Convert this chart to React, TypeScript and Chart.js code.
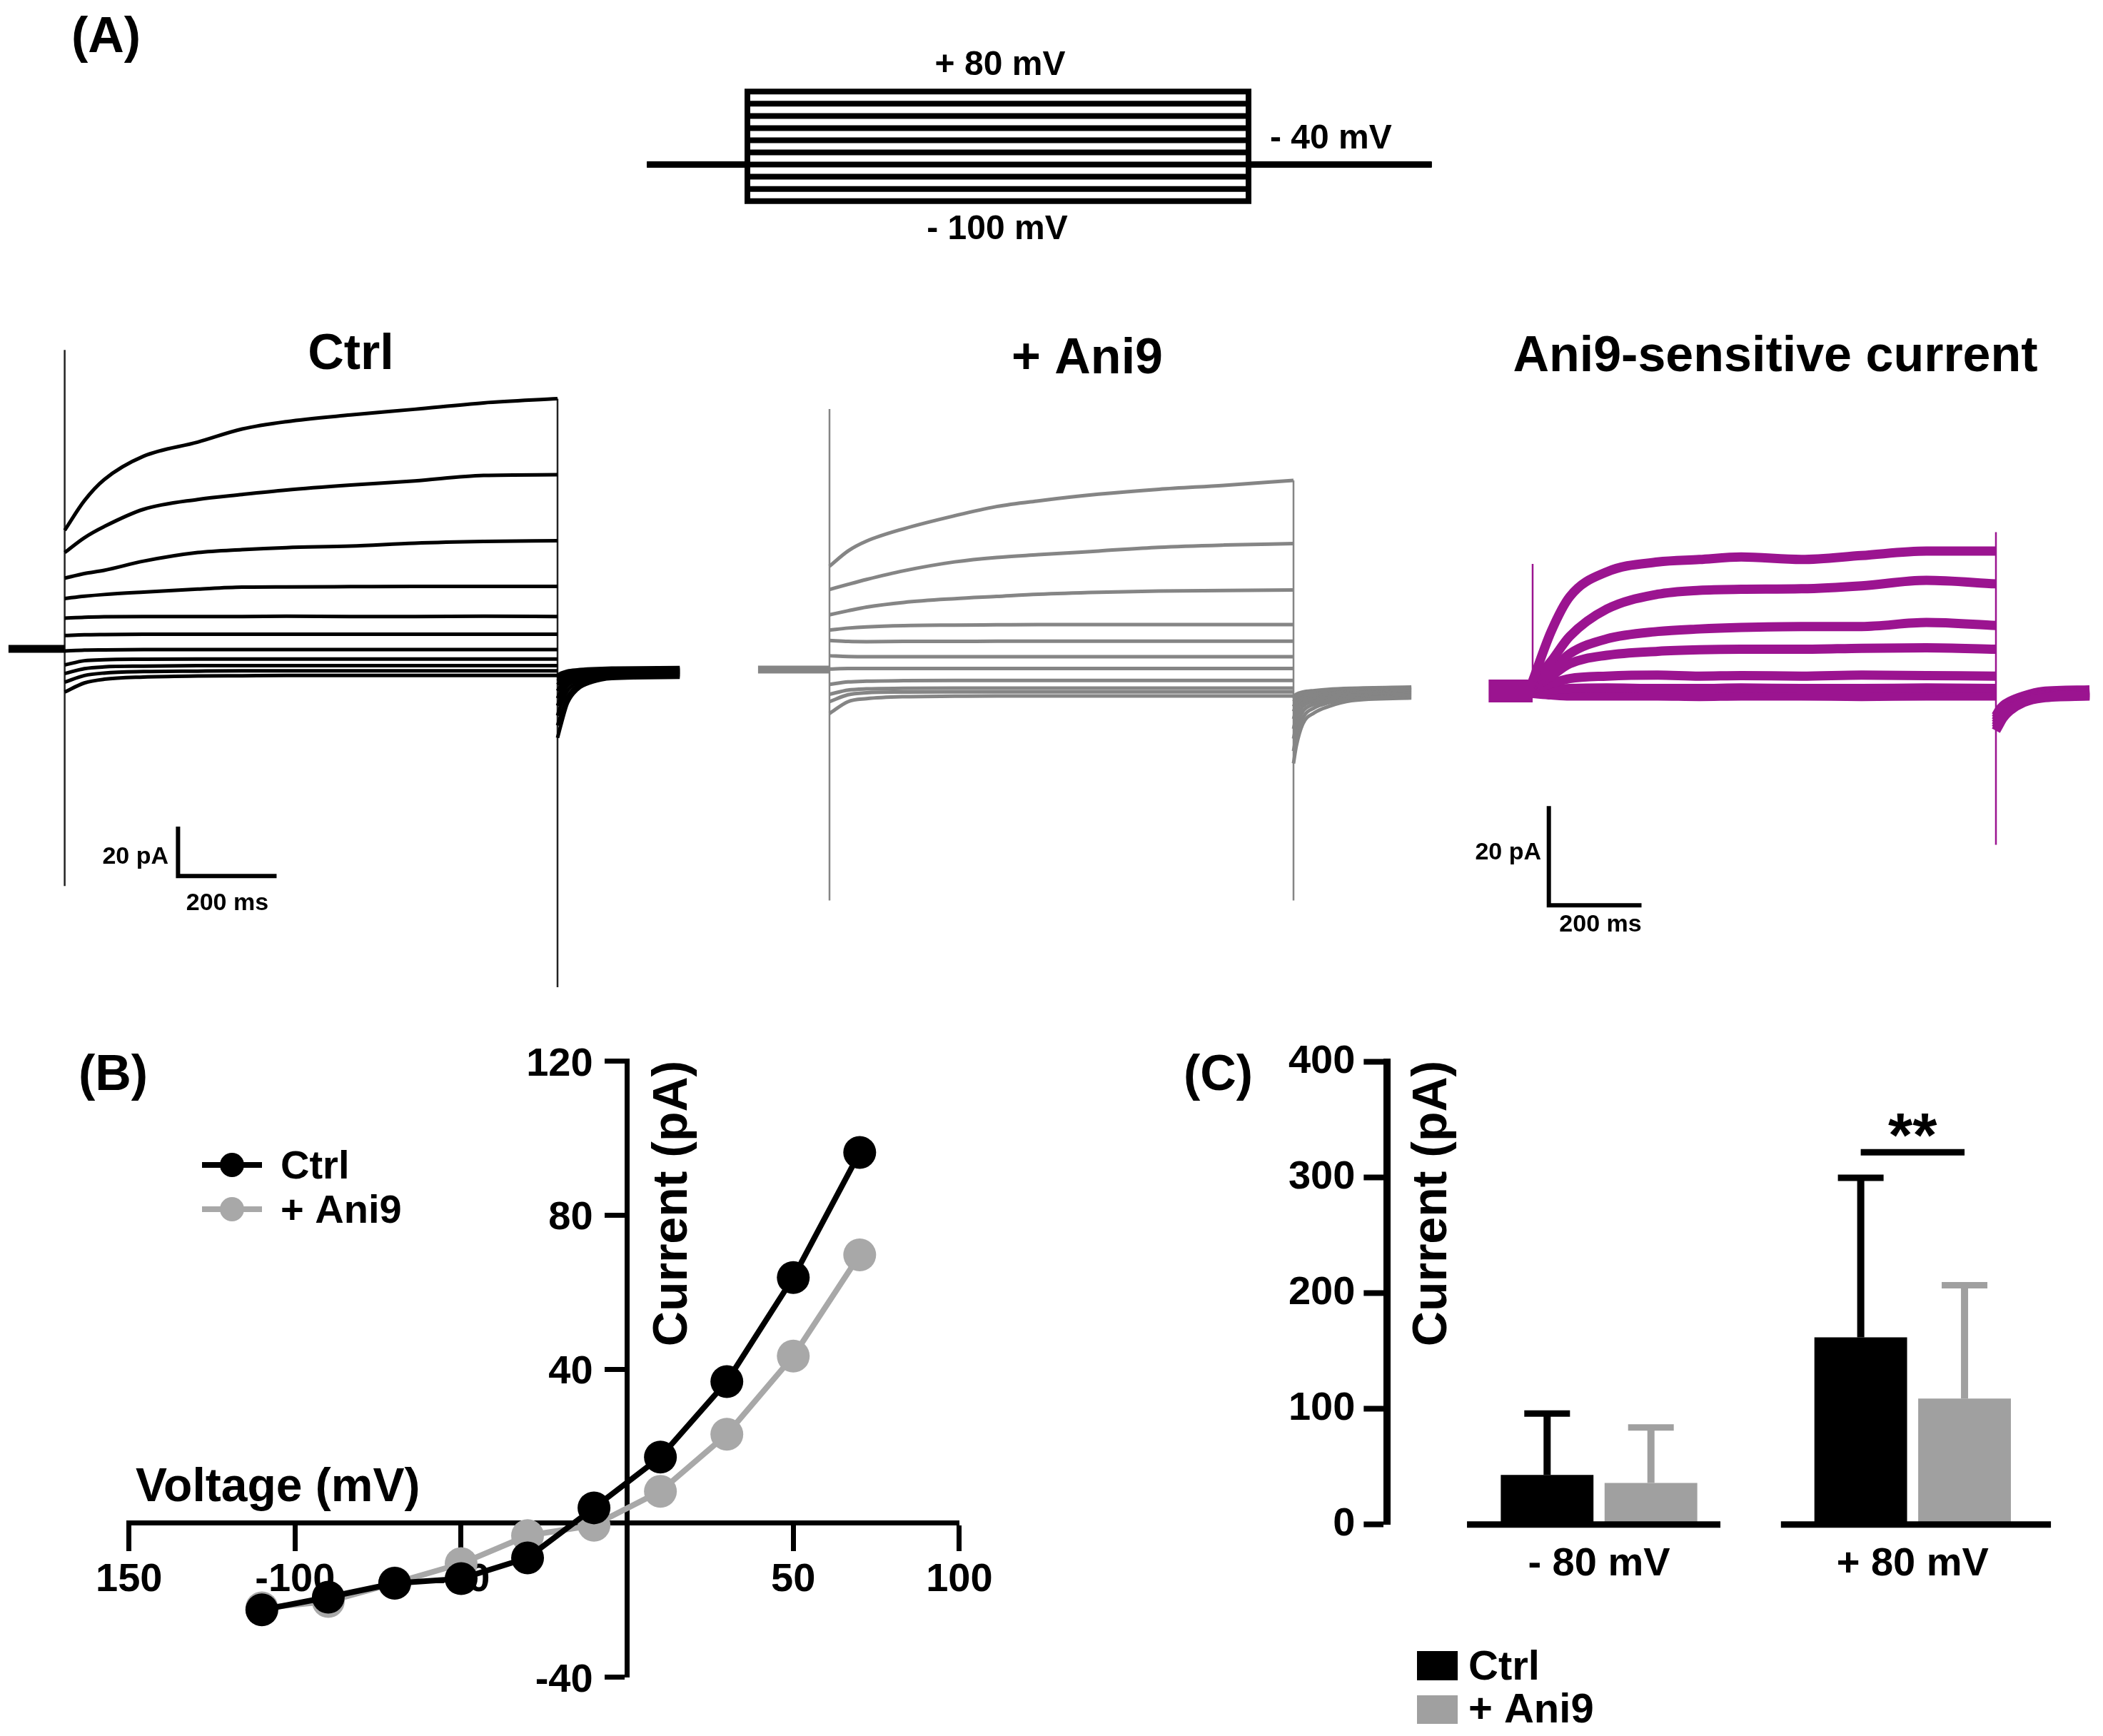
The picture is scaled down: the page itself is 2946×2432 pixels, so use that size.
import React, { useEffect, useRef } from "react";
import { Chart, registerables } from "chart.js";

Chart.register(...registerables);

const FONT = '"Liberation Sans", Arial, Helvetica, sans-serif';
Chart.defaults.font.family = FONT;
Chart.defaults.color = "#000";

// ---------------- DATA ----------------
// Voltage protocol (mV, ms)
const PROTOCOL_LEVELS_MV = [80, 60, 40, 20, 0, -20, -40, -60, -80, -100];
const HOLDING_MV = -40;
const PROTOCOL_TIMES_MS = [-200, 0, 1000, 1365];

// Current traces (pA) sampled at these times (ms)
const HOLDING_PA = 0;
const STEP_TIMES_MS = [0, 40, 80, 160, 270, 360, 450, 580, 710, 850, 1000];

const CTRL_PRE_START_MS = -114;
const CTRL_STEP_PA = [
  [48, 60, 68.5, 78, 83.7, 89, 92, 94.7, 97, 99.6, 101.3],
  [39, 45, 49.5, 56.5, 60.5, 62.5, 64.3, 66.3, 68, 70.2, 70.5],
  [28.6, 30.5, 31.8, 35.5, 39, 40.2, 41, 41.6, 42.8, 43.5, 43.8],
  [20.4, 21.3, 22, 23, 24.2, 25, 25.1, 25.2, 25.3, 25.3, 25.3],
  [12.4, 12.8, 13, 13.1, 13.1, 13.1, 13.2, 13.1, 13.1, 13.2, 13.1],
  [5.4, 5.7, 5.8, 5.9, 5.9, 5.9, 5.9, 5.9, 5.9, 5.9, 5.9],
  [-0.9, -0.5, -0.4, -0.3, -0.3, -0.3, -0.3, -0.3, -0.3, -0.3, -0.3],
  [-6.5, -4.8, -4.4, -4.2, -4.1, -4.1, -4.1, -4.1, -4.1, -4.1, -4.1],
  [-10, -8, -7.3, -7, -6.8, -6.8, -6.8, -6.8, -6.8, -6.8, -6.8],
  [-13.5, -10.8, -9.8, -9.2, -9, -8.9, -8.9, -8.9, -8.9, -8.9, -8.9],
  [-17.5, -13.8, -12.3, -11.4, -11, -10.9, -10.8, -10.8, -10.8, -10.8, -10.8],
];
const CTRL_TAIL_TIMES_MS = [1000, 1008, 1020, 1040, 1070, 1110, 1248];
const CTRL_TAIL_PA = [
  [-36, -30, -22, -16.5, -13.5, -12, -11.5],
  [-31, -26, -19.5, -15, -12.8, -11.5, -11],
  [-27, -22, -17, -13.8, -12, -11, -10.5],
  [-23, -19, -15, -12.7, -11.3, -10.6, -10.2],
  [-20, -16.5, -13.5, -11.8, -10.8, -10.2, -9.8],
  [-17, -14.5, -12.3, -11, -10.3, -9.8, -9.5],
  [-14.5, -12.8, -11.3, -10.4, -9.8, -9.4, -9.2],
  [-13, -11.8, -10.6, -9.9, -9.3, -9, -8.8],
  [-12, -11, -10, -9.4, -8.9, -8.6, -8.4],
  [-11.3, -10.4, -9.5, -9, -8.5, -8.2, -8],
  [-10.6, -9.8, -9, -8.5, -8.1, -7.8, -7.6],
];
const CTRL_ON_SPIKE_PA = [121, -96];
const CTRL_OFF_SPIKE_PA = [101.3, -137];

const ANI9_PRE_START_MS = -154;
const ANI9_STEP_PA = [
  [41.8, 48, 52, 57, 62.3, 66, 68.3, 71, 73, 74.6, 76.6],
  [32.4, 34.5, 36.5, 40, 43.6, 45.4, 46.5, 48, 49.5, 50.4, 51],
  [22.2, 23.8, 25.3, 27.2, 28.7, 29.6, 30.5, 31.3, 31.8, 32, 32.2],
  [16, 16.8, 17.3, 17.8, 18, 18.1, 18.2, 18.2, 18.2, 18.2, 18.2],
  [11.8, 11.4, 11.3, 11.4, 11.4, 11.5, 11.5, 11.5, 11.5, 11.5, 11.5],
  [5.6, 5.3, 5.2, 5.2, 5.2, 5.2, 5.2, 5.2, 5.2, 5.2, 5.2],
  [0.2, 0.4, 0.4, 0.4, 0.4, 0.4, 0.4, 0.4, 0.4, 0.4, 0.4],
  [-6, -5, -4.7, -4.5, -4.4, -4.4, -4.4, -4.4, -4.4, -4.4, -4.4],
  [-10, -8.3, -7.8, -7.6, -7.5, -7.5, -7.5, -7.5, -7.5, -7.5, -7.5],
  [-13, -10.2, -9.4, -9.1, -9, -9, -9, -9, -9, -9, -9],
  [-17.8, -13, -11.8, -11, -10.8, -10.7, -10.7, -10.7, -10.7, -10.7, -10.7],
];
const ANI9_TAIL_TIMES_MS = [1000, 1006, 1020, 1045, 1075, 1125, 1254];
const ANI9_TAIL_PA = [
  [-38, -31, -22, -17.5, -15, -12.6, -11.5],
  [-33, -27, -19.5, -15.5, -13.5, -11.8, -11],
  [-28, -23, -17, -14, -12.3, -11, -10.5],
  [-24, -19.5, -15, -12.8, -11.5, -10.5, -10],
  [-20, -16.5, -13.5, -11.8, -10.8, -10, -9.5],
  [-17, -14.5, -12.3, -11, -10.2, -9.5, -9],
  [-15, -13, -11.3, -10.3, -9.6, -9, -8.5],
  [-13, -11.8, -10.5, -9.7, -9.1, -8.6, -8.1],
  [-12, -11, -9.9, -9.2, -8.7, -8.2, -7.7],
  [-11.5, -10.5, -9.5, -8.8, -8.3, -7.9, -7.4],
  [-11, -10, -9.1, -8.5, -8, -7.6, -7.1],
];
const ANI9_ON_SPIKE_PA = [105.5, -93.5];
const ANI9_OFF_SPIKE_PA = [76.6, -93.5];

const SENS_PRE_START_MS = -95;
const SENS_STEP_PA = [
  [2, 12, 19, 24, 26, 26.5, 27, 26.5, 27.3, 28.2, 28.2],
  [1.5, 6, 11, 16.5, 19.5, 20.3, 20.5, 20.6, 21.2, 22.3, 21.6],
  [1, 4, 7.5, 10.5, 12, 12.5, 12.8, 13, 13, 13.8, 13.2],
  [0.5, 3, 5.5, 7.2, 8, 8.3, 8.4, 8.4, 8.6, 8.7, 8.4],
  [0.3, 1.5, 2.5, 3, 3.2, 3, 3.1, 3, 3.2, 3.1, 3],
  [0, 0.3, 0.5, 0.6, 0.5, 0.5, 0.6, 0.5, 0.5, 0.6, 0.5],
  [-0.5, -0.8, -1, -1, -1, -1.1, -1, -1, -1.1, -1, -1],
];
const SENS_TAIL_TIMES_MS = [1000, 1006, 1015, 1030, 1060, 1100, 1202];
const SENS_TAIL_PA = [
  [-8, -7, -5.5, -4, -2.3, -1.4, -1],
  [-7.5, -6.5, -5, -3.6, -2, -1.1, -0.8],
  [-7, -6, -4.6, -3.3, -1.8, -0.9, -0.6],
  [-6.5, -5.5, -4.2, -3, -1.6, -0.7, -0.4],
  [-6, -5, -3.8, -2.7, -1.4, -0.5, -0.2],
  [-5.5, -4.5, -3.4, -2.4, -1.2, -0.3, 0],
  [-5, -4, -3, -2.1, -1, -0.1, 0.2],
];
const SENS_ON_SPIKE_PA = [25.6, 0];
const SENS_OFF_SPIKE_PA = [32, -31];

const SCALE_BAR_PA = 20;
const SCALE_BAR_MS = 200;

// Panel B: I-V relationship
const B_VOLTAGE_MV = [-110, -90, -70, -50, -30, -10, 10, 30, 50, 70];
const B_CTRL_PA = [-22.5, -19.2, -15.6, -14.4, -9, 4, 17.2, 36.8, 63.8, 96.3];
const B_ANI9_PA = [-22, -20.3, -15.5, -10.5, -3.2, -0.5, 8.3, 23.1, 43.4, 69.7];
const B_X_TICKS = [-150, -100, -50, 0, 50, 100];
const B_X_TICK_TEXT = ["150", "-100", "-50", "", "50", "100"];
const B_Y_TICKS = [-40, 0, 40, 80, 120];
const B_Y_TICK_TEXT = ["-40", "", "40", "80", "120"];

// Panel C: bar chart
const C_GROUPS = ["- 80 mV", "+ 80 mV"];
const C_CTRL_MEAN = [43, 162];
const C_CTRL_SD = [53, 138];
const C_ANI9_MEAN = [36, 109];
const C_ANI9_SD = [48, 98];
const C_SIG_GROUP = 1;
const C_SIG_VALUE = 322;
const C_SIG_TEXT = "**";

// ---------------- HELPERS ----------------
type Box = { left: number; top: number; width: number; height: number };
type TextItem = {
  s: string;
  x: number;
  y: number;
  size: number;
  align?: CanvasTextAlign;
  rot?: number;
  color?: string;
  baseline?: CanvasTextBaseline;
};

function drawText(ctx: CanvasRenderingContext2D, t: TextItem, ox: number, oy: number) {
  ctx.save();
  ctx.font = `bold ${t.size}px ${FONT}`;
  ctx.fillStyle = t.color || "#000";
  ctx.textAlign = t.align || "left";
  ctx.textBaseline = t.baseline || "alphabetic";
  ctx.translate(t.x - ox, t.y - oy);
  if (t.rot) ctx.rotate(t.rot);
  ctx.fillText(t.s, 0, 0);
  ctx.restore();
}

function textPlugin(id: string, items: TextItem[], box: Box) {
  return {
    id,
    afterDraw(chart: any) {
      items.forEach((t) => drawText(chart.ctx, t, box.left, box.top));
    },
  };
}

// value at pixel p, given two reference pixel/value pairs
const valAt = (p: number, p0: number, v0: number, p1: number, v1: number) =>
  v0 + ((p - p0) * (v1 - v0)) / (p1 - p0);

const baseOptions = {
  animation: false,
  responsive: false,
  maintainAspectRatio: false,
  devicePixelRatio: 1,
  events: [],
  plugins: { legend: { display: false }, tooltip: { enabled: false } },
};

function fixScale(w?: number, h?: number) {
  return (s: any) => {
    if (w !== undefined) s.width = w;
    if (h !== undefined) s.height = h;
    s.paddingLeft = 0;
    s.paddingRight = 0;
    s.paddingTop = 0;
    s.paddingBottom = 0;
  };
}

const straight = (data: any[], color: string, width: number) => ({
  data,
  borderColor: color,
  borderWidth: width,
  pointRadius: 0,
  fill: false,
  tension: 0,
  cubicInterpolationMode: "default",
  borderJoinStyle: "miter",
  borderCapStyle: "butt",
});
const smooth = (data: any[], color: string, width: number) => ({
  data,
  borderColor: color,
  borderWidth: width,
  pointRadius: 0,
  fill: false,
  cubicInterpolationMode: "monotone",
  borderJoinStyle: "round",
});

// ---------------- PANEL A: protocol ----------------
const PROTO_BOX: Box = { left: 0, top: 0, width: 2040, height: 370 };
function makeProtocol() {
  const b = PROTO_BOX;
  const xmin = valAt(b.left, 1047, 0, 1749, 1000);
  const xmax = valAt(b.left + b.width, 1047, 0, 1749, 1000);
  const ymax = valAt(b.top, 128.3, 80, 281.7, -100);
  const ymin = valAt(b.top + b.height, 128.3, 80, 281.7, -100);
  const [tStart, tOn, tOff, tEnd] = PROTOCOL_TIMES_MS;
  const datasets = PROTOCOL_LEVELS_MV.map((v) =>
    straight(
      [
        { x: tStart, y: HOLDING_MV },
        { x: tOn, y: HOLDING_MV },
        { x: tOn, y: v },
        { x: tOff, y: v },
        { x: tOff, y: HOLDING_MV },
        { x: tEnd, y: HOLDING_MV },
      ],
      "#000",
      8
    )
  );
  const texts: TextItem[] = [
    { s: "(A)", x: 100, y: 73, size: 70 },
    { s: "+ 80 mV", x: 1401, y: 105, size: 48, align: "center" },
    { s: "- 100 mV", x: 1397, y: 335, size: 48, align: "center" },
    { s: "- 40 mV", x: 1779, y: 208, size: 48 },
  ];
  return {
    type: "line",
    data: { datasets },
    options: {
      ...baseOptions,
      layout: { padding: 0 },
      scales: {
        x: { type: "linear", display: false, min: xmin, max: xmax },
        y: { type: "linear", display: false, min: ymin, max: ymax },
      },
    },
    plugins: [textPlugin("protoText", texts, b)],
  };
}

// ---------------- PANEL A: traces ----------------
type TraceSpec = {
  box: Box;
  t0px: number;
  t1000px: number;
  zeroPx: number;
  pxPerPA: number;
  preStart: number;
  steps: number[][];
  tailTimes: number[];
  tails: number[][];
  onSpike: number[];
  offSpike: number[];
  color: string;
  lw: number;
  holdLw: number;
  spikeColor: string;
  scaleCorner?: [number, number];
  texts: TextItem[];
};

function makeTraces(o: TraceSpec) {
  const b = o.box;
  const xmin = valAt(b.left, o.t0px, 0, o.t1000px, 1000);
  const xmax = valAt(b.left + b.width, o.t0px, 0, o.t1000px, 1000);
  const ymax = (o.zeroPx - b.top) / o.pxPerPA;
  const ymin = (o.zeroPx - (b.top + b.height)) / o.pxPerPA;
  const datasets: any[] = [];
  datasets.push(
    straight(
      [
        { x: o.preStart, y: HOLDING_PA },
        { x: 0, y: HOLDING_PA },
      ],
      o.color,
      o.holdLw
    )
  );
  o.steps.forEach((tr, i) => {
    datasets.push(smooth(STEP_TIMES_MS.map((t, j) => ({ x: t, y: tr[j] })), o.color, o.lw));
    datasets.push(smooth(o.tailTimes.map((t, j) => ({ x: t, y: o.tails[i][j] })), o.color, o.lw));
  });
  const tOn = STEP_TIMES_MS[0];
  const tOff = STEP_TIMES_MS[STEP_TIMES_MS.length - 1];
  datasets.push(
    straight(
      [
        { x: tOn, y: o.onSpike[0] },
        { x: tOn, y: o.onSpike[1] },
      ],
      o.spikeColor,
      2.5
    )
  );
  datasets.push(
    straight(
      [
        { x: tOff, y: o.offSpike[0] },
        { x: tOff, y: o.offSpike[1] },
      ],
      o.spikeColor,
      2.5
    )
  );
  if (o.scaleCorner) {
    const [ct, cp] = o.scaleCorner;
    datasets.push(
      straight(
        [
          { x: ct, y: cp + SCALE_BAR_PA },
          { x: ct, y: cp },
          { x: ct + SCALE_BAR_MS, y: cp },
        ],
        "#000",
        6
      )
    );
  }
  return {
    type: "line",
    data: { datasets },
    options: {
      ...baseOptions,
      layout: { padding: 0 },
      scales: {
        x: { type: "linear", display: false, min: xmin, max: xmax },
        y: { type: "linear", display: false, min: ymin, max: ymax },
      },
    },
    plugins: [textPlugin("traceText" + b.left, o.texts, b)],
  };
}

const CTRL_BOX: Box = { left: 0, top: 440, width: 1000, height: 980 };
const ANI9_BOX: Box = { left: 1040, top: 440, width: 980, height: 860 };
const SENS_BOX: Box = { left: 2060, top: 440, width: 886, height: 890 };

const makeCtrl = () =>
  makeTraces({
    box: CTRL_BOX,
    t0px: 90.6,
    t1000px: 781,
    zeroPx: 909,
    pxPerPA: 3.46,
    preStart: CTRL_PRE_START_MS,
    steps: CTRL_STEP_PA,
    tailTimes: CTRL_TAIL_TIMES_MS,
    tails: CTRL_TAIL_PA,
    onSpike: CTRL_ON_SPIKE_PA,
    offSpike: CTRL_OFF_SPIKE_PA,
    color: "#000",
    lw: 5,
    holdLw: 11,
    spikeColor: "#222",
    scaleCorner: [230, -92],
    texts: [
      { s: "Ctrl", x: 491.5, y: 517, size: 70, align: "center" },
      { s: "20 pA", x: 236, y: 1210, size: 34, align: "right" },
      { s: "200 ms", x: 318.4, y: 1275, size: 34, align: "center" },
    ],
  });

const makeAni9 = () =>
  makeTraces({
    box: ANI9_BOX,
    t0px: 1162,
    t1000px: 1812,
    zeroPx: 938,
    pxPerPA: 3.46,
    preStart: ANI9_PRE_START_MS,
    steps: ANI9_STEP_PA,
    tailTimes: ANI9_TAIL_TIMES_MS,
    tails: ANI9_TAIL_PA,
    onSpike: ANI9_ON_SPIKE_PA,
    offSpike: ANI9_OFF_SPIKE_PA,
    color: "#858585",
    lw: 5,
    holdLw: 11,
    spikeColor: "#858585",
    texts: [{ s: "+ Ani9", x: 1523, y: 523, size: 70, align: "center" }],
  });

const makeSens = () =>
  makeTraces({
    box: SENS_BOX,
    t0px: 2147,
    t1000px: 2796,
    zeroPx: 968,
    pxPerPA: 6.95,
    preStart: SENS_PRE_START_MS,
    steps: SENS_STEP_PA,
    tailTimes: SENS_TAIL_TIMES_MS,
    tails: SENS_TAIL_PA,
    onSpike: SENS_ON_SPIKE_PA,
    offSpike: SENS_OFF_SPIKE_PA,
    color: "#9b1490",
    lw: 13,
    holdLw: 32,
    spikeColor: "#9b1490",
    scaleCorner: [35, -43.2],
    texts: [
      { s: "Ani9-sensitive current", x: 2487, y: 520, size: 70, align: "center" },
      { s: "20 pA", x: 2159, y: 1204, size: 34, align: "right" },
      { s: "200 ms", x: 2242, y: 1305, size: 34, align: "center" },
    ],
  });

// ---------------- PANEL B ----------------
const B_BOX: Box = { left: 100, top: 1440, width: 1300, height: 992 };
const B_COLORS = ["#000000", "#a8a8a8"];
const B_Y_TICK_LEN = 28;
const B_Y_LABEL_PAD = 20;
function makeB() {
  const b = B_BOX;
  const padLeft = 180.7 - b.left;
  const padRight = b.left + b.width - 1343.9;
  const padTop = 1486.7 - b.top;
  const padBottom = b.top + b.height - 2349.7;
  const datasets = [
    {
      label: "Ctrl",
      data: B_VOLTAGE_MV.map((v, i) => ({ x: v, y: B_CTRL_PA[i] })),
    },
    {
      label: "+ Ani9",
      data: B_VOLTAGE_MV.map((v, i) => ({ x: v, y: B_ANI9_PA[i] })),
    },
  ].map((d, i) => ({
    ...d,
    borderColor: B_COLORS[i],
    backgroundColor: B_COLORS[i],
    pointBackgroundColor: B_COLORS[i],
    pointBorderWidth: 0,
    pointRadius: 23,
    borderWidth: 8,
    tension: 0,
    fill: false,
  }));
  const tickFont = { size: 56, weight: "bold", family: FONT };
  const texts: TextItem[] = [
    { s: "(B)", x: 110, y: 1527, size: 70 },
    { s: "Voltage (mV)", x: 190, y: 2103, size: 66 },
    { s: "Current (pA)", x: 962, y: 1686, size: 68, align: "center", rot: -Math.PI / 2 },
  ];
  // y tick labels placed from the library's own scales (axis crosses at x = 0)
  const yLabelPlugin = {
    id: "bYLabels",
    afterDraw(chart: any) {
      const xs = chart.scales.x;
      const ys = chart.scales.y;
      const ax = xs.getPixelForValue(0);
      B_Y_TICKS.forEach((v, i) => {
        if (!B_Y_TICK_TEXT[i]) return;
        drawText(
          chart.ctx,
          {
            s: B_Y_TICK_TEXT[i],
            x: ax - B_Y_TICK_LEN - B_Y_LABEL_PAD,
            y: ys.getPixelForValue(v) + 20,
            size: 56,
            align: "right",
          },
          0,
          0
        );
      });
    },
  };
  const legendPlugin = {
    id: "bLegend",
    afterDraw(chart: any) {
      const ctx = chart.ctx as CanvasRenderingContext2D;
      const rows = [1632, 1694];
      chart.data.datasets.forEach((ds: any, i: number) => {
        const y = rows[i] - b.top;
        ctx.save();
        ctx.strokeStyle = ds.borderColor;
        ctx.lineWidth = 8;
        ctx.beginPath();
        ctx.moveTo(283 - b.left, y);
        ctx.lineTo(367 - b.left, y);
        ctx.stroke();
        ctx.fillStyle = ds.borderColor;
        ctx.beginPath();
        ctx.arc(325 - b.left, y, 17, 0, Math.PI * 2);
        ctx.fill();
        ctx.restore();
        drawText(ctx, { s: ds.label, x: 393, y: rows[i] + 19, size: 56 }, b.left, b.top);
      });
    },
  };
  return {
    type: "line",
    data: { datasets },
    options: {
      ...baseOptions,
      layout: { padding: { left: padLeft, right: padRight, top: padTop, bottom: padBottom } },
      scales: {
        x: {
          type: "linear",
          min: -150,
          max: 100,
          position: { y: 0 },
          afterFit: fixScale(undefined, 0),
          afterBuildTicks: (s: any) => {
            s.ticks = B_X_TICKS.map((v) => ({ value: v }));
          },
          ticks: {
            font: tickFont,
            color: "#000",
            padding: 10,
            maxRotation: 0,
            autoSkip: false,
            callback: (v: any) => {
              const i = B_X_TICKS.indexOf(Number(v));
              return i >= 0 ? B_X_TICK_TEXT[i] : "";
            },
          },
          grid: {
            display: true,
            drawOnChartArea: false,
            drawTicks: true,
            tickLength: 36,
            tickWidth: 7,
            tickColor: "#000",
          },
          border: { display: true, color: "#000", width: 7 },
        },
        y: {
          type: "linear",
          min: -40,
          max: 120,
          position: { x: 0 },
          afterFit: fixScale(0, undefined),
          afterBuildTicks: (s: any) => {
            s.ticks = B_Y_TICKS.map((v) => ({ value: v }));
          },
          ticks: { display: false },
          grid: {
            display: true,
            drawOnChartArea: false,
            drawTicks: true,
            tickLength: B_Y_TICK_LEN,
            tickWidth: 7,
            tickColor: "#000",
          },
          border: { display: true, color: "#000", width: 7 },
        },
      },
    },
    plugins: [textPlugin("bText", texts, b), yLabelPlugin, legendPlugin],
  };
}

// ---------------- PANEL C ----------------
const C_BOX: Box = { left: 1640, top: 1440, width: 1306, height: 992 };
const C_COLORS = ["#000000", "#a0a0a0"];
const C_AXIS_SEGMENTS = [
  [-0.421, 0.387],
  [-0.42, 0.441],
];
function makeC() {
  const b = C_BOX;
  const Y_AXIS_W = 200;
  const GAP_W = 77;
  const X_AXIS_H = 100;
  const chartLeft = 2020.35;
  const chartRight = 2899;
  const chartTop = 1487.9;
  const chartBottom = 2135.8;
  const padding = {
    left: chartLeft - b.left - Y_AXIS_W - GAP_W,
    right: b.left + b.width - chartRight,
    top: chartTop - b.top,
    bottom: b.top + b.height - chartBottom - X_AXIS_H,
  };
  const sds = [C_CTRL_SD, C_ANI9_SD];
  const datasets = [
    { label: "Ctrl", data: C_CTRL_MEAN },
    { label: "+ Ani9", data: C_ANI9_MEAN },
  ].map((d, i) => ({
    ...d,
    backgroundColor: C_COLORS[i],
    borderWidth: 0,
    categoryPercentage: 0.662,
    barPercentage: 0.893,
  }));
  const tickFont = { size: 56, weight: "bold", family: FONT };
  const texts: TextItem[] = [
    { s: "(C)", x: 1658, y: 1527, size: 70 },
    { s: "Current (pA)", x: 2026, y: 1686, size: 68, align: "center", rot: -Math.PI / 2 },
  ];
  const extras = {
    id: "cExtras",
    afterDatasetsDraw(chart: any) {
      const ctx = chart.ctx as CanvasRenderingContext2D;
      const xs = chart.scales.x;
      const ys = chart.scales.y;
      // broken x axis
      const cw = xs.width / C_GROUPS.length;
      const y0 = ys.getPixelForValue(0);
      ctx.save();
      ctx.strokeStyle = "#000";
      ctx.lineWidth = 9;
      C_GROUPS.forEach((_, i) => {
        const cx = xs.getPixelForValue(i);
        ctx.beginPath();
        ctx.moveTo(cx + C_AXIS_SEGMENTS[i][0] * cw, y0);
        ctx.lineTo(cx + C_AXIS_SEGMENTS[i][1] * cw, y0);
        ctx.stroke();
      });
      // error bars (upper)
      chart.data.datasets.forEach((ds: any, di: number) => {
        const meta = chart.getDatasetMeta(di);
        meta.data.forEach((bar: any, i: number) => {
          const top = ys.getPixelForValue(ds.data[i] + sds[di][i]);
          ctx.strokeStyle = ds.backgroundColor;
          ctx.lineWidth = 10;
          ctx.beginPath();
          ctx.moveTo(bar.x, bar.y);
          ctx.lineTo(bar.x, top);
          ctx.stroke();
          ctx.lineWidth = 9;
          ctx.beginPath();
          ctx.moveTo(bar.x - 32, top);
          ctx.lineTo(bar.x + 32, top);
          ctx.stroke();
        });
      });
      // significance
      const m0 = chart.getDatasetMeta(0).data[C_SIG_GROUP];
      const m1 = chart.getDatasetMeta(1).data[C_SIG_GROUP];
      const sy = ys.getPixelForValue(C_SIG_VALUE);
      ctx.strokeStyle = "#000";
      ctx.lineWidth = 9;
      ctx.beginPath();
      ctx.moveTo(m0.x, sy);
      ctx.lineTo(m1.x, sy);
      ctx.stroke();
      ctx.restore();
      drawText(
        ctx,
        { s: C_SIG_TEXT, x: (m0.x + m1.x) / 2 + b.left, y: sy + b.top + 6, size: 88, align: "center" },
        b.left,
        b.top
      );
      // legend
      const rows = [
        [2313, 41, 2353],
        [2375, 40, 2413],
      ];
      chart.data.datasets.forEach((ds: any, i: number) => {
        ctx.save();
        ctx.fillStyle = ds.backgroundColor;
        ctx.fillRect(1985 - b.left, rows[i][0] - b.top, 57, rows[i][1]);
        ctx.restore();
        drawText(ctx, { s: ds.label, x: 2057, y: rows[i][2], size: 58 }, b.left, b.top);
      });
    },
  };
  return {
    type: "bar",
    data: { labels: C_GROUPS, datasets },
    options: {
      ...baseOptions,
      layout: { padding },
      scales: {
        x: {
          type: "category",
          position: "bottom",
          afterFit: fixScale(undefined, X_AXIS_H),
          grid: { display: false, drawTicks: false },
          border: { display: false },
          ticks: { font: tickFont, color: "#000", padding: 22, maxRotation: 0, autoSkip: false },
        },
        y: {
          type: "linear",
          position: "left",
          weight: 1,
          min: 0,
          max: 400,
          afterFit: fixScale(Y_AXIS_W, undefined),
          ticks: { stepSize: 100, font: tickFont, color: "#000", padding: 12 },
          grid: {
            display: true,
            drawOnChartArea: false,
            drawTicks: true,
            tickLength: 33,
            tickWidth: 8,
            tickColor: "#000",
          },
          border: { display: true, color: "#000", width: 10 },
        },
        yGap: {
          type: "linear",
          axis: "y",
          position: "left",
          weight: 0,
          display: true,
          afterFit: fixScale(GAP_W, undefined),
          grid: { display: false, drawTicks: false },
          border: { display: false },
          ticks: { display: false },
        },
      },
    },
    plugins: [textPlugin("cText", texts, b), extras],
  };
}

// ---------------- COMPONENTS ----------------
function ChartCanvas({ box, make }: { box: Box; make: () => any }) {
  const ref = useRef<HTMLCanvasElement | null>(null);
  useEffect(() => {
    if (!ref.current) return;
    const chart = new Chart(ref.current, make() as any);
    return () => chart.destroy();
  }, []);
  return (
    <canvas
      ref={ref}
      width={box.width}
      height={box.height}
      style={{
        position: "absolute",
        left: box.left,
        top: box.top,
        width: box.width + "px",
        height: box.height + "px",
      }}
    />
  );
}

export default function App() {
  return (
    <div
      style={{
        position: "absolute",
        left: 0,
        top: 0,
        width: 2946,
        height: 2432,
        background: "#ffffff",
        overflow: "hidden",
      }}
    >
      <ChartCanvas box={PROTO_BOX} make={makeProtocol} />
      <ChartCanvas box={CTRL_BOX} make={makeCtrl} />
      <ChartCanvas box={ANI9_BOX} make={makeAni9} />
      <ChartCanvas box={SENS_BOX} make={makeSens} />
      <ChartCanvas box={B_BOX} make={makeB} />
      <ChartCanvas box={C_BOX} make={makeC} />
    </div>
  );
}
